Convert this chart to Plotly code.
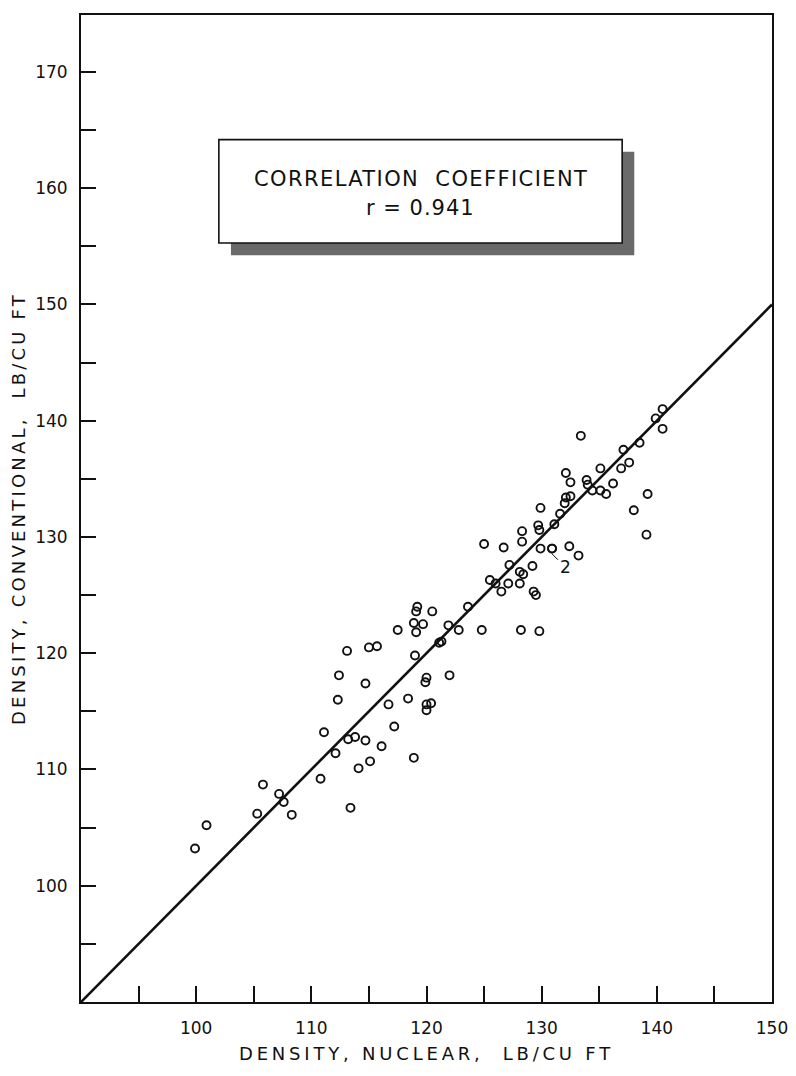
import plotly.graph_objects as go

# ---- data ----
nuclear = [
    99.9, 100.9, 105.3, 105.8, 107.2, 107.6, 108.3, 110.8, 113.4, 114.1,
    115.1, 112.1, 116.1, 118.9, 111.1, 113.2, 113.8, 114.7, 117.2, 112.3,
    116.7, 118.4, 120.0, 120.4, 120.0, 112.4, 114.7, 120.0, 119.9, 122.0,
    113.1, 115.0, 115.7, 119.0, 121.1, 121.3, 117.5, 118.9, 119.7, 119.1,
    121.9, 122.8, 124.8, 119.2, 119.1, 120.5, 123.6, 125.0, 125.5, 126.0,
    126.5, 126.7, 127.2, 127.1, 128.1, 128.4, 128.1, 129.3, 129.5, 129.2,
    128.2, 129.8, 128.3, 128.3, 129.7, 129.8, 129.9, 131.1, 131.6, 132.0,
    132.1, 132.5, 132.1, 132.5, 133.9, 134.0, 134.4, 135.1, 135.6, 136.2,
    135.1, 136.9, 137.6, 137.1, 138.5, 133.4, 139.9, 140.5, 140.5, 139.2,
    138.0, 139.1, 129.9, 130.9, 130.9, 132.4, 133.2,
]
conventional = [
    103.2, 105.2, 106.2, 108.7, 107.9, 107.2, 106.1, 109.2, 106.7, 110.1,
    110.7, 111.4, 112.0, 111.0, 113.2, 112.6, 112.8, 112.5, 113.7, 116.0,
    115.6, 116.1, 115.6, 115.7, 115.1, 118.1, 117.4, 117.9, 117.5, 118.1,
    120.2, 120.5, 120.6, 119.8, 120.9, 121.0, 122.0, 122.6, 122.5, 121.8,
    122.4, 122.0, 122.0, 124.0, 123.6, 123.6, 124.0, 129.4, 126.3, 126.0,
    125.3, 129.1, 127.6, 126.0, 127.0, 126.8, 126.0, 125.3, 125.0, 127.5,
    122.0, 121.9, 129.6, 130.5, 131.0, 130.6, 132.5, 131.1, 132.0, 132.9,
    133.4, 133.5, 135.5, 134.7, 134.9, 134.5, 134.0, 134.0, 133.7, 134.6,
    135.9, 135.9, 136.4, 137.5, 138.1, 138.7, 140.2, 141.0, 139.3, 133.7,
    132.3, 130.2, 129.0, 129.0, 129.0, 129.2, 128.4,
]
equality_x = [90, 150]
equality_y = [90, 150]
correlation_r = 0.941
duplicate_label = "2"

x_tick_vals = [95, 100, 105, 110, 115, 120, 125, 130, 135, 140, 145, 150]
x_tick_text = ["", "100", "", "110", "", "120", "", "130", "", "140", "", "150"]
y_tick_vals = [95, 100, 105, 110, 115, 120, 125, 130, 135, 140, 145, 150,
               155, 160, 165, 170]
y_tick_text = ["", "100", "", "110", "", "120", "", "130", "", "140", "",
               "150", "", "160", "", "170"]

x_title = "DENSITY, NUCLEAR,  LB/CU FT"
y_title = "DENSITY, CONVENTIONAL,  LB/CU FT"

FONT = "DejaVu Sans"
INK = "#111111"


def spaced(text, px):
    return f'<span style="letter-spacing:{px}px">{text}</span>'


fig = go.Figure()

fig.add_trace(go.Scatter(
    x=equality_x, y=equality_y, mode="lines",
    line=dict(color=INK, width=2.6), hoverinfo="skip",
))
fig.add_trace(go.Scatter(
    x=nuclear, y=conventional, mode="markers",
    marker=dict(symbol="circle-open", size=8, color=INK,
                line=dict(width=1.9, color=INK)),
))

# correlation box with drop shadow
bx0, bx1, by0, by1 = 101.97, 136.99, 155.29, 164.18
sdx, sdy = 1.05, 1.05
fig.add_shape(type="rect", xref="x", yref="y",
              x0=bx0 + sdx, x1=bx1 + sdx, y0=by0 - sdy, y1=by1 - sdy,
              fillcolor="#6a6a6a", line=dict(width=0), layer="above")
fig.add_shape(type="rect", xref="x", yref="y",
              x0=bx0, x1=bx1, y0=by0, y1=by1,
              fillcolor="white", line=dict(color=INK, width=1.6), layer="above")

fig.add_annotation(x=(bx0 + bx1) / 2, y=160.83, xref="x", yref="y",
                   text=spaced("CORRELATION  COEFFICIENT", 1.4), showarrow=False,
                   font=dict(family=FONT, size=21, color=INK))
fig.add_annotation(x=(bx0 + bx1) / 2, y=158.33, xref="x", yref="y",
                   text=spaced(f"r = {correlation_r}", 1.0), showarrow=False,
                   font=dict(family=FONT, size=21, color=INK))

# "2" label for coincident points
fig.add_annotation(x=130.9, y=128.55, xref="x", yref="y",
                   text=duplicate_label, showarrow=True, arrowhead=0,
                   arrowwidth=1, arrowcolor=INK, ax=13, ay=13, standoff=0,
                   font=dict(family=FONT, size=17, color=INK))

fig.update_layout(
    width=788, height=1060,
    margin=dict(l=72.6, r=24.4, t=7, b=66),
    paper_bgcolor="white", plot_bgcolor="white",
    showlegend=False,
    font=dict(family=FONT, color=INK),
    xaxis=dict(
        range=[90, 150], tickmode="array", tickvals=x_tick_vals,
        ticktext=x_tick_text, ticks="inside", ticklen=16, tickwidth=1.5,
        tickcolor=INK, showline=True, linewidth=2, linecolor=INK,
        mirror=True, showgrid=False, zeroline=False,
        tickfont=dict(family=FONT, size=17, color=INK),
        ticklabelstandoff=10, automargin=False,
        title=dict(text=spaced(x_title, 3.8),
                   font=dict(family=FONT, size=18, color=INK), standoff=10),
    ),
    yaxis=dict(
        range=[90, 174.9], tickmode="array", tickvals=y_tick_vals,
        ticktext=y_tick_text, ticks="inside", ticklen=15, tickwidth=1.5,
        tickcolor=INK, showline=True, linewidth=2, linecolor=INK,
        mirror=True, showgrid=False, zeroline=False,
        tickfont=dict(family=FONT, size=17, color=INK),
        ticklabelstandoff=8, automargin=False,
        title=dict(text=spaced(y_title, 3.2),
                   font=dict(family=FONT, size=18, color=INK), standoff=11),
    ),
)

fig.write_html("out.html")
